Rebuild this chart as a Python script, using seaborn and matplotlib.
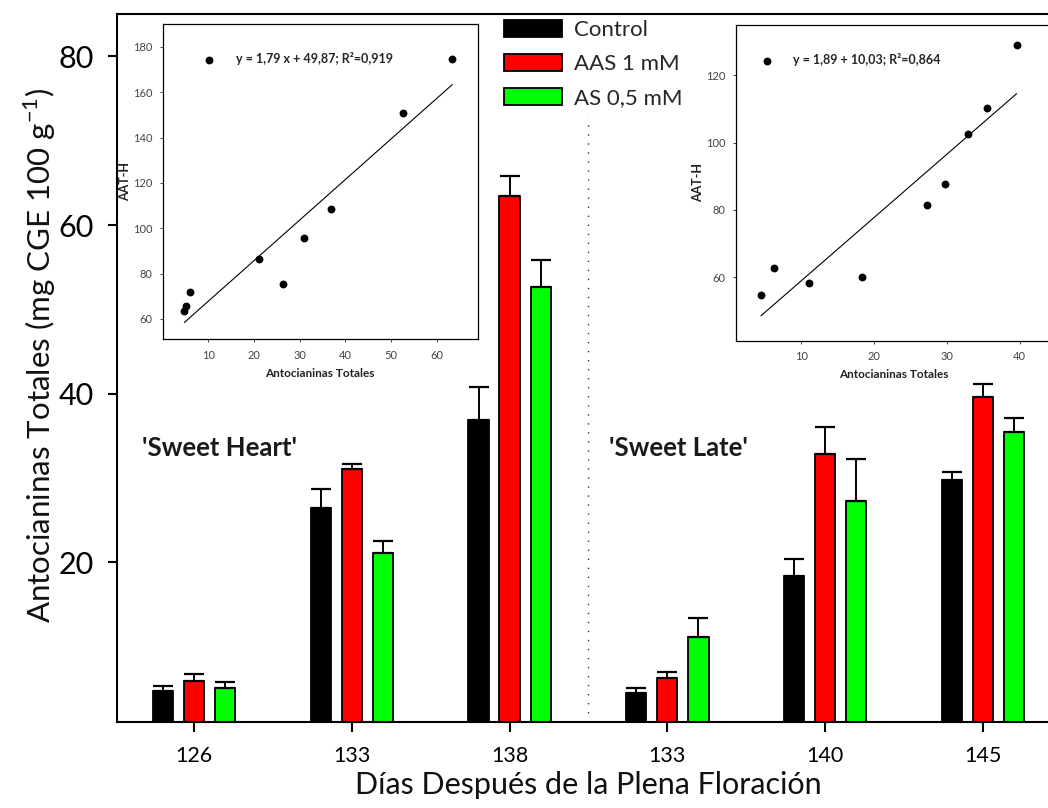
import matplotlib
matplotlib.use("Agg")
import matplotlib.pyplot as plt
from matplotlib.patches import Patch
import numpy as np
import pandas as pd
import seaborn as sns

# ---------------------------------------------------------------- data
periods = ["SH-126", "SH-133", "SH-138", "SL-133", "SL-140", "SL-145"]
day_labels = ["126", "133", "138", "133", "140", "145"]
treatments = ["Control", "AAS 1 mM", "AS 0,5 mM"]
bar_colors = ["#000000", "#ff0000", "#00ff00"]

# total anthocyanins (mg CGE 100 g-1), mean and standard error per sampling date
control_mean = [4.73, 26.41, 36.88, 4.46, 18.34, 29.73]
aas_mean = [5.92, 31.03, 63.45, 6.28, 32.85, 39.57]
as_mean = [5.12, 21.14, 52.69, 11.10, 27.27, 35.46]
control_se = [0.63, 2.29, 3.95, 0.59, 2.05, 1.02]
aas_se = [0.79, 0.63, 2.41, 0.74, 3.24, 1.58]
as_se = [0.68, 1.39, 3.17, 2.25, 4.98, 1.69]

# hydrophilic antioxidant activity (AAT-H) for the same samples
control_aath = [63.4, 75.3, 108.4, 54.7, 59.9, 87.7]
aas_aath = [71.7, 95.7, 174.7, 62.6, 102.7, 129.1]
as_aath = [65.6, 86.3, 150.8, 58.2, 81.6, 110.2]

cultivars = ["'Sweet Heart'", "'Sweet Late'"]
regression_labels = ["y = 1,79 x + 49,87; R²=0,919",
                     "y = 1,89 + 10,03; R²=0,864"]

means = {"Control": control_mean, "AAS 1 mM": aas_mean, "AS 0,5 mM": as_mean}
errors = {"Control": control_se, "AAS 1 mM": aas_se, "AS 0,5 mM": as_se}
aath = {"Control": control_aath, "AAS 1 mM": aas_aath, "AS 0,5 mM": as_aath}

rows = []
for t in treatments:
    for i, p in enumerate(periods):
        rows.append({"period": p, "cultivar": cultivars[i // 3], "treatment": t,
                     "antocianinas": means[t][i], "se": errors[t][i],
                     "aath": aath[t][i]})
df = pd.DataFrame(rows)

# ---------------------------------------------------------------- style
sns.set_theme(style="ticks")
plt.rcParams["font.family"] = ["Lato", "DejaVu Sans"]
plt.rcParams["mathtext.fontset"] = "custom"
plt.rcParams["mathtext.rm"] = "Lato"
plt.rcParams["axes.linewidth"] = 1.5
plt.rcParams["axes.edgecolor"] = "black"

W, H = 1048, 808
fig = plt.figure(figsize=(W / 100, H / 100), dpi=100)
fig.patch.set_facecolor("white")


def fig_box(x0, y0, x1, y1):
    """Pixel box (top-left origin) to figure fraction rectangle."""
    return [x0 / W, 1 - y1 / H, (x1 - x0) / W, (y1 - y0) / H]


ax = fig.add_axes(fig_box(116.5, 14.3, 1060, 722.3))

sns.barplot(data=df, x="period", y="antocianinas", hue="treatment",
            order=periods, hue_order=treatments, palette=bar_colors,
            width=0.59, gap=0.35, errorbar=None, edgecolor="black",
            linewidth=1.3, saturation=1, legend=False, ax=ax)

# upper standard-error whiskers
xs, ys, es = [], [], []
for cont, t in zip(ax.containers, treatments):
    for bar in cont:
        cx = bar.get_x() + bar.get_width() / 2
        i = int(round(cx))
        xs.append(cx)
        ys.append(bar.get_height())
        es.append(errors[t][i])
ax.errorbar(xs, ys, yerr=[np.zeros(len(es)), es], fmt="none", ecolor="black",
            elinewidth=1.4, capsize=7.2, capthick=1.6, zorder=3)

ax.set_xlim(-0.491, 5.488)
ax.set_ylim(1, 85)
ax.set_yticks([20, 40, 60, 80])
ax.set_xticks(range(len(periods)))
ax.set_xticklabels(day_labels)
ax.tick_params(axis="y", direction="out", length=6.5, width=1.5, pad=10,
               labelsize=22, colors="black")
ax.tick_params(axis="x", direction="out", length=7.2, width=1.5, pad=10,
               labelsize=15.5, colors="black")
for s in ["top", "right", "left", "bottom"]:
    ax.spines[s].set_visible(True)
    ax.spines[s].set_linewidth(1.5)

ax.set_ylabel(r"Antocianinas Totales (mg CGE 100 g$^{\mathregular{-1}}$)",
              fontsize=22.5, color="#111111")
ax.yaxis.set_label_coords(-0.062, 0.518)
ax.set_xlabel("Días Después de la Plena Floración", fontsize=22, color="#111111")
ax.xaxis.set_label_coords(0.5, -0.069)

# separator between cultivars
ax.axvline(2.5, ymin=0, ymax=0.855, color="#333333", lw=1.0,
           linestyle=(0, (1, 5.5)), zorder=0)

# cultivar names
ax.text(-0.33, 33.6, cultivars[0], fontsize=18.5, fontweight="bold",
        color="#1a1a1a", ha="left", va="center")
ax.text(2.63, 33.6, cultivars[1], fontsize=18.5, fontweight="bold",
        color="#1a1a1a", ha="left", va="center")

handles = [Patch(facecolor=c, edgecolor="black", linewidth=1.3, label=t)
           for c, t in zip(bar_colors, treatments)]
fig.legend(handles=handles, loc="upper left", bbox_to_anchor=(504 / W, 1 - 20 / H),
           frameon=False, fontsize=16, handlelength=2.6, handleheight=0.8,
           handletextpad=0.55, labelspacing=0.62, borderpad=0, borderaxespad=0)

# ---------------------------------------------------------------- insets
inset_boxes = [fig_box(162.7, 24.3, 477.7, 339.3), fig_box(735.7, 25, 1051, 341)]
inset_xlims = [(0, 69), (1, 44.3)]
inset_ylims = [(51, 190), (41, 135)]
inset_yticks = [[60, 80, 100, 120, 140, 160, 180], [60, 80, 100, 120]]
inset_xticks = [[10, 20, 30, 40, 50, 60], [10, 20, 30, 40]]
legend_anchor = [(0.128, 0.890), (0.079, 0.890)]

for k, cv in enumerate(cultivars):
    sub = df[df["cultivar"] == cv]
    ins = fig.add_axes(inset_boxes[k])
    ins.set_facecolor("white")
    sns.regplot(data=sub, x="antocianinas", y="aath", ci=None, truncate=True,
                color="black", ax=ins, label=regression_labels[k],
                scatter_kws=dict(s=32, linewidths=0, alpha=1),
                line_kws=dict(lw=0.8, color="black"))
    ins.set_xlim(*inset_xlims[k])
    ins.set_ylim(*inset_ylims[k])
    ins.set_xticks(inset_xticks[k])
    ins.set_yticks(inset_yticks[k])
    ins.tick_params(direction="out", length=2.5, width=0.7, pad=5,
                    labelsize=8, colors="#444444")
    for s in ins.spines.values():
        s.set_linewidth(0.9)
        s.set_color("black")
    ins.set_xlabel("Antocianinas Totales", fontsize=8.5, fontweight="bold",
                   color="#222222", labelpad=5)
    ins.set_ylabel("AAT-H", fontsize=9, fontweight="bold", color="#222222",
                   labelpad=1)
    ins.legend(loc="center left", bbox_to_anchor=legend_anchor[k], frameon=False,
               handlelength=1, handletextpad=1.6, borderpad=0, borderaxespad=0,
               prop=dict(weight="bold", size=9))

fig.savefig("out.png", dpi=100)
